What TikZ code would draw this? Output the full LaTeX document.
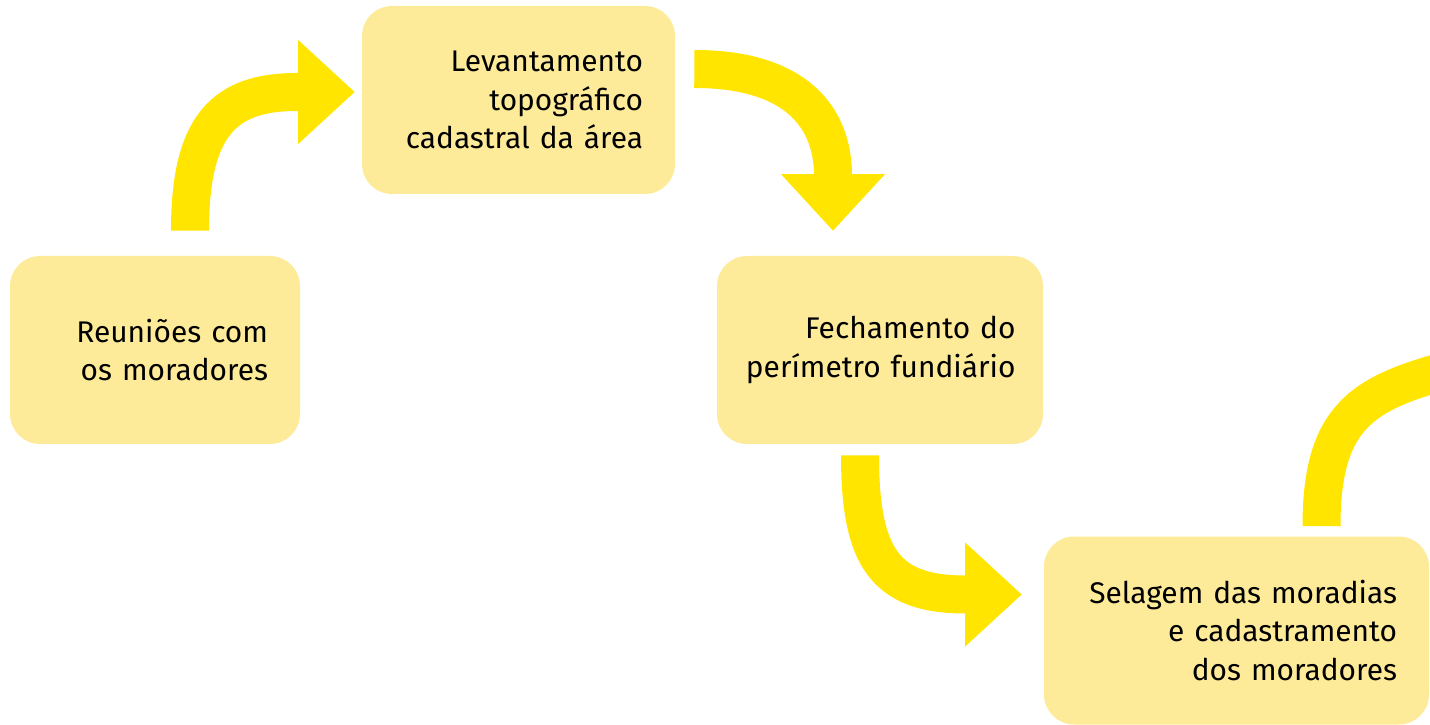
\documentclass[tikz,border=0pt]{standalone}
\usepackage{fontspec}
\setmainfont{Fira Sans}
\usetikzlibrary{arrows.meta}
\definecolor{caixa}{HTML}{FEEB9A}
\definecolor{amarelo}{HTML}{FFE500}
\begin{document}
\begin{tikzpicture}[
    etapa/.style={rectangle,rounded corners=0.6cm,fill=caixa,minimum height=3.76cm,
      inner xsep=0.64cm,align=right,font=\fontsize{17}{21.9}\selectfont},
    seta/.style={draw=amarelo,line width=0.76cm,
      -{Triangle[width=2.08cm,length=1.13cm,line width=0pt]}}]
    \useasboundingbox (0,0) rectangle (28.6,-14.5);
    \clip (0,0) rectangle (28.6,-14.5);
    \node[etapa,text width=4.52cm] (a) at (3.10,-7.00) {Reuniões com\\os moradores};
    \node[etapa,text width=4.98cm] (b) at (10.37,-2.00) {Levantamento\\topográfico\\cadastral da área};
    \node[etapa,text width=5.42cm,inner xsep=0.55cm] (c) at (17.60,-7.00) {Fechamento do\\perímetro fundiário};
    \node[etapa,text width=6.42cm] (d) at (24.73,-12.61) {Selagem das moradias\\e cadastramento\\dos moradores};
    \coordinate (e) at (29.0,-7.39);
    \draw[seta] ([shift={(0.70,0.50)}]a.north) .. controls +(0,2.1) and +(-1.45,0) .. ([shift={(-1.30,0.16)}]b.west) -- ([shift={(-0.14,0.16)}]b.west);
    \draw[seta] ([shift={(0.38,0.62)}]b.east) .. controls +(2.05,0) and +(0,1.15) .. ([shift={(-0.94,1.60)}]c.north) -- ([shift={(-0.94,0.50)}]c.north);
    \draw[seta] ([shift={(-0.40,-0.22)}]c.south) .. controls +(0,-2.06) and +(-1.6,0) .. ([shift={(-1.56,0.72)}]d.west) -- ([shift={(-0.44,0.72)}]d.west);
    \draw[seta,-] ([shift={(1.70,0.20)}]d.north) .. controls +(0,2.2) and +(-1.74,-0.47) .. (e);
\end{tikzpicture}
\end{document}
